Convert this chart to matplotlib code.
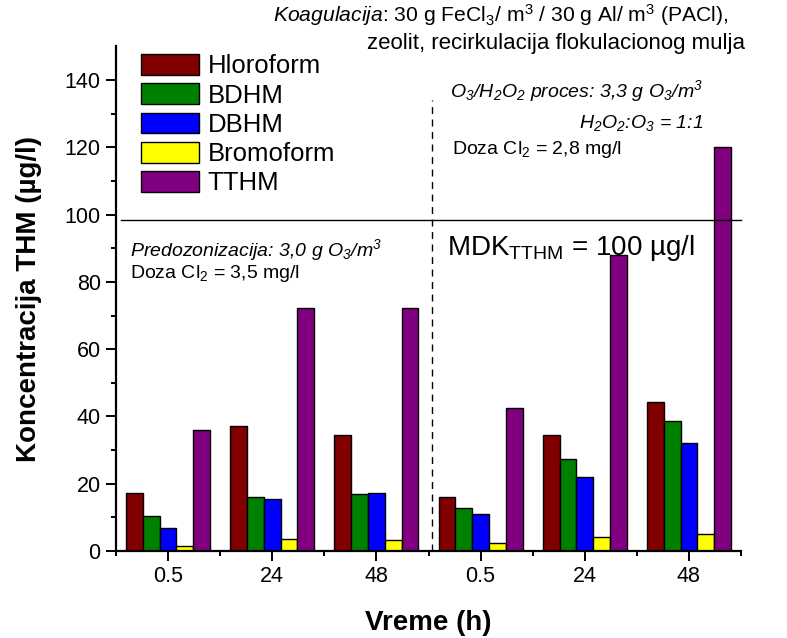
# thm_bar_chart.py
import numpy as np
import matplotlib
matplotlib.use("Agg")
import matplotlib.pyplot as plt

# -------------------------
# data
# -------------------------
time_labels = ['0.5', '24', '48', '0.5', '24', '48']
series_names = ['Hloroform', 'BDHM', 'DBHM', 'Bromoform', 'TTHM']
series_colors = ['#800000', '#008000', '#0000ff', '#ffff00', '#800080']

hloroform = [17.2, 37.3, 34.6, 16.2, 34.4, 44.3]
bdhm      = [10.5, 16.2, 17.0, 12.9, 27.2, 38.5]
dbhm      = [6.8, 15.6, 17.3, 11.0, 22.0, 32.2]
bromoform = [1.6, 3.5, 3.3, 2.4, 4.2, 5.0]
tthm      = [36.0, 72.2, 72.3, 42.5, 87.9, 120.0]

MDK_LINE = 98.5     # drawn a bit under the 100 tick in the original
SPLIT_X = 3.03      # dashed separator between the two processes
# -------------------------

plt.rcParams['font.family'] = ['Liberation Sans', 'DejaVu Sans']
plt.rcParams['mathtext.fontset'] = 'custom'
plt.rcParams['mathtext.rm'] = 'Liberation Sans'
plt.rcParams['mathtext.it'] = 'Liberation Sans:italic'
plt.rcParams['mathtext.bf'] = 'Liberation Sans:bold'
plt.rcParams['mathtext.default'] = 'regular'

W, H = 787, 638
fig = plt.figure(figsize=(W / 100, H / 100), dpi=100)
ax = fig.add_axes([116 / W, 1 - 551 / H, (741 - 116) / W, (551 - 46.4) / H])

x = np.arange(len(time_labels)) + 0.5
bw = 0.161
all_series = [hloroform, bdhm, dbhm, bromoform, tthm]
for i, (vals, name, col) in enumerate(zip(all_series, series_names, series_colors)):
    ax.bar(x + (i - 2) * bw, vals, width=bw, color=col, edgecolor='black',
           linewidth=1.0, label=name, zorder=2)

ax.set_xlim(0, 6)
ax.set_ylim(0, 150)
ax.set_xticks(x)
ax.set_xticklabels(time_labels)
ax.set_xticks(np.arange(0, 7), minor=True)
ax.set_yticks(np.arange(0, 141, 20))
ax.set_yticks(np.arange(10, 140, 20), minor=True)

for s in ['top', 'right']:
    ax.spines[s].set_visible(False)
for s in ['left', 'bottom']:
    ax.spines[s].set_linewidth(1.6)
ax.tick_params(which='major', direction='out', length=7, width=1.4, labelsize=15.5, pad=4)
ax.tick_params(which='minor', direction='out', length=3.5, width=1.4)

ax.set_xlabel('Vreme (h)', fontsize=20, fontweight='bold', labelpad=16)
ax.set_ylabel('Koncentracija THM (µg/l)', fontsize=20, fontweight='bold', labelpad=16)

# MDK line and process separator
ax.plot([0.05, 6.0], [MDK_LINE, MDK_LINE], color='black', lw=1.0, zorder=3, clip_on=False)
ax.plot([SPLIT_X, SPLIT_X], [0, 134], color='black', lw=1.0, ls=(0, (5, 4)), zorder=1)

leg = ax.legend(loc='upper left', bbox_to_anchor=((128 - 116) / (741 - 116), 1.01),
                frameon=False, fontsize=18.5, handlelength=2.25, handleheight=0.85,
                handletextpad=0.35, labelspacing=0.2, borderaxespad=0.1)


def px(xp, yp):
    return xp / W, 1 - yp / H


fs = 14
fig.text(*px(273, 15), r'$\mathit{Koagulacija}$: 30 g FeCl$_3$/ m$^3$ / 30 g Al/ m$^3$ (PACl),',
         fontsize=15.2, ha='left', va='center')
fig.text(*px(745, 43), 'zeolit, recirkulacija flokulacionog mulja',
         fontsize=16, ha='right', va='center')

fig.text(*px(450, 91), 'O$_3$/H$_2$O$_2$ proces: 3,3 g O$_3$/m$^3$',
         fontsize=fs, style='italic', ha='left', va='center')
fig.text(*px(703, 123), 'H$_2$O$_2$:O$_3$ = 1:1',
         fontsize=fs, style='italic', ha='right', va='center')
fig.text(*px(452, 150), 'Doza Cl$_2$ = 2,8 mg/l', fontsize=fs, ha='left', va='center')

fig.text(*px(130, 250), 'Predozonizacija: 3,0 g O$_3$/m$^3$',
         fontsize=fs, style='italic', ha='left', va='center')
fig.text(*px(130, 273), 'Doza Cl$_2$ = 3,5 mg/l', fontsize=fs, ha='left', va='center')

fig.text(*px(447, 248), 'MDK$_{TTHM}$ = 100 µg/l', fontsize=20, ha='left', va='center',
         zorder=5)

fig.savefig('out.png', dpi=100)
